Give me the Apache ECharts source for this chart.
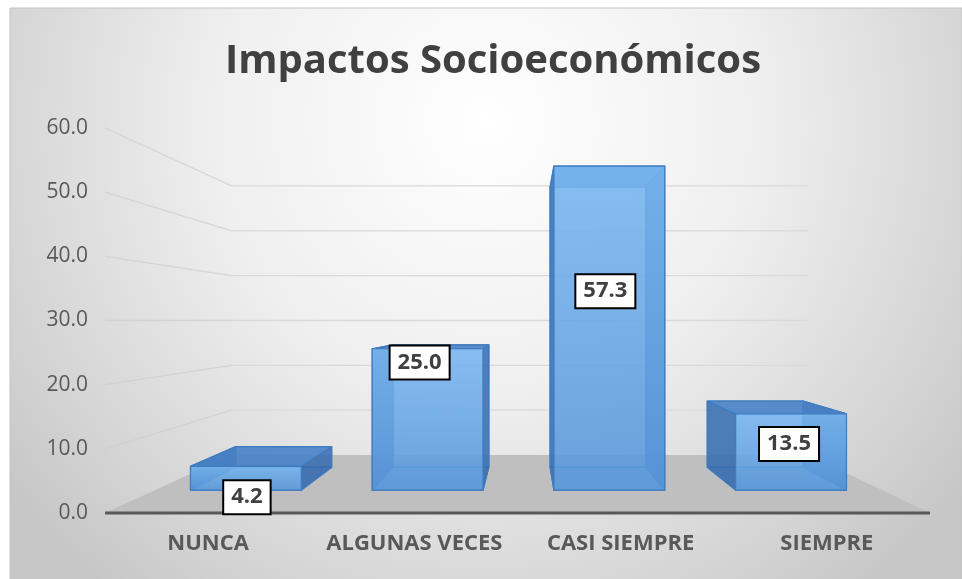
<!DOCTYPE html>
<html><head><meta charset="utf-8">
<script src="https://cdn.jsdelivr.net/npm/echarts@6/dist/echarts.min.js"></script>
<style>html,body{margin:0;padding:0;background:#fff}#c{width:962px;height:579px}</style>
</head><body><div id="c"></div>
<script>
// ---- data ----
const chartTitle = 'Impactos Socioeconómicos';
const categories = ['NUNCA', 'ALGUNAS VECES', 'CASI SIEMPRE', 'SIEMPRE'];
const values = [4.2, 25.0, 57.3, 13.5];
const yTicks = [0, 10, 20, 30, 40, 50, 60];

// ---- layout / perspective (styling only) ----
const VP = [0.51, 0.50];           // vanishing point as fraction of the grid
const S_FRONT = 0.881, S_BACK = 0.762, S_WALL = 0.699;
const BAR_FRAC = 0.61;
const labelShift = [[1, 19], [-8, -57], [-4, -37], [-2, -8]];
const FONT = '"Open Sans", "Liberation Sans", sans-serif';

function proj(cs, p, s) {
  const vx = cs.x + VP[0] * cs.width, vy = cs.y + VP[1] * cs.height;
  return [vx + s * (p[0] - vx), vy + s * (p[1] - vy)];
}

const chart = echarts.init(document.getElementById('c'), null, {renderer: 'canvas'});

const option = {
  animation: false,
  graphic: [{
    type: 'rect', z: -10, silent: true,
    shape: {x: 10, y: 8, width: 952, height: 575},
    style: {
      fill: {type: 'radial', x: 0.5, y: 0.2, r: 1.05, colorStops: [
        {offset: 0, color: '#ffffff'}, {offset: 0.45, color: '#efefef'},
        {offset: 0.85, color: '#d2d2d2'}, {offset: 1, color: '#c6c6c6'}]},
      stroke: '#c4c4c4', lineWidth: 1
    }
  }],
  title: {
    text: chartTitle, left: 220, top: 37,
    textStyle: {fontFamily: FONT, fontSize: 40, fontWeight: 'bold', color: '#404040'}
  },
  grid: {left: 105, right: 32, top: 128, bottom: 66},
  xAxis: {
    type: 'category', data: categories,
    axisLine: {show: false}, axisTick: {show: false},
    axisLabel: {interval: 0, margin: 20, color: '#595959', fontFamily: FONT, fontSize: 22, fontWeight: 'bold'}
  },
  yAxis: {
    type: 'value', min: 0, max: 60, interval: 10,
    axisLine: {show: false}, axisTick: {show: false}, splitLine: {show: false},
    axisLabel: {margin: 17, color: '#595959', fontFamily: FONT, fontSize: 21,
      formatter: v => v.toFixed(1)}
  },
  series: [
    { // wall gridlines
      type: 'custom', silent: true,
      data: yTicks.slice(1).map(v => [0, v]),
      encode: {x: 0, y: 1},
      renderItem: function (params, api) {
        const cs = params.coordSys;
        const y = api.coord([0, api.value(1)])[1];
        const f = [cs.x, y];
        const bl = proj(cs, f, S_WALL), br = proj(cs, [cs.x + cs.width, y], S_WALL);
        return {type: 'group', children: [
          {type: 'line', shape: {x1: f[0], y1: f[1], x2: bl[0], y2: bl[1]},
            style: {stroke: 'rgba(205,205,205,0.75)', lineWidth: 1.3}},
          {type: 'line', shape: {x1: bl[0], y1: bl[1], x2: br[0], y2: br[1]},
            style: {stroke: '#d9d9d9', lineWidth: 1.3}}
        ]};
      }
    },
    { // floor
      type: 'custom', silent: true,
      data: [[0, 0]],
      encode: {x: 0, y: 1},
      renderItem: function (params, api) {
        const cs = params.coordSys;
        const y0 = api.coord([0, 0])[1];
        const fl = [cs.x, y0], fr = [cs.x + cs.width, y0];
        const bl = proj(cs, fl, S_WALL), br = proj(cs, fr, S_WALL);
        return {type: 'group', children: [
          {type: 'polygon', shape: {points: [fl, fr, br, bl]}, style: {fill: '#bfbfbf'}},
          {type: 'line', shape: {x1: fl[0], y1: fl[1], x2: fr[0], y2: fr[1]},
            style: {stroke: '#595959', lineWidth: 3}}
        ]};
      }
    },
    { // bars
      type: 'custom',
      data: values.map((v, i) => [i, v]),
      encode: {x: 0, y: 1},
      renderItem: function (params, api) {
        const cs = params.coordSys;
        const i = api.value(0), v = api.value(1);
        const base = api.coord([i, 0]), top = api.coord([i, v]);
        const hw = api.size([1, 0])[0] * BAR_FRAC / 2;
        const box = s => ({
          tl: proj(cs, [base[0] - hw, top[1]], s), tr: proj(cs, [base[0] + hw, top[1]], s),
          br: proj(cs, [base[0] + hw, base[1]], s), bl: proj(cs, [base[0] - hw, base[1]], s)
        });
        const F = box(S_FRONT), B = box(S_BACK);
        const edge = {stroke: '#3f7cc0', lineWidth: 1.2, lineJoin: 'round'};
        const face = (pts, fill) => ({type: 'polygon', shape: {points: pts}, style: Object.assign({fill: fill}, edge)});
        const cx = (F.tl[0] + F.tr[0]) / 2, cy = (F.tl[1] + F.bl[1]) / 2;
        const sh = labelShift[params.dataIndex];
        return {type: 'group', children: [
          face([B.tl, B.tr, B.br, B.bl], 'rgba(85,145,212,0.35)'),
          face([F.bl, F.br, B.br, B.bl], 'rgba(70,130,200,0.45)'),
          face([F.tl, B.tl, B.bl, F.bl], 'rgba(52,105,172,0.8)'),
          face([F.tr, B.tr, B.br, F.br], 'rgba(52,105,172,0.8)'),
          face([F.tl, F.tr, B.tr, B.tl], 'rgba(72,128,198,0.85)'),
          face([F.tl, F.tr, F.br, F.bl], {type: 'linear', x: 0, y: 0, x2: 0, y2: 1, colorStops: [
            {offset: 0, color: 'rgba(122,185,243,0.82)'}, {offset: 1, color: 'rgba(88,152,220,0.82)'}]}),
          {type: 'text', x: cx + sh[0], y: cy + sh[1], z2: 100,
            style: {text: v.toFixed(1), font: 'bold 22px ' + FONT, fill: '#404040',
              align: 'center', verticalAlign: 'middle', textAlign: 'center', textVerticalAlign: 'middle',
              backgroundColor: '#ffffff', borderColor: '#000000', borderWidth: 2, padding: [5, 7]}}
        ]};
      }
    }
  ]
};
chart.setOption(option);
</script>
</body></html>
